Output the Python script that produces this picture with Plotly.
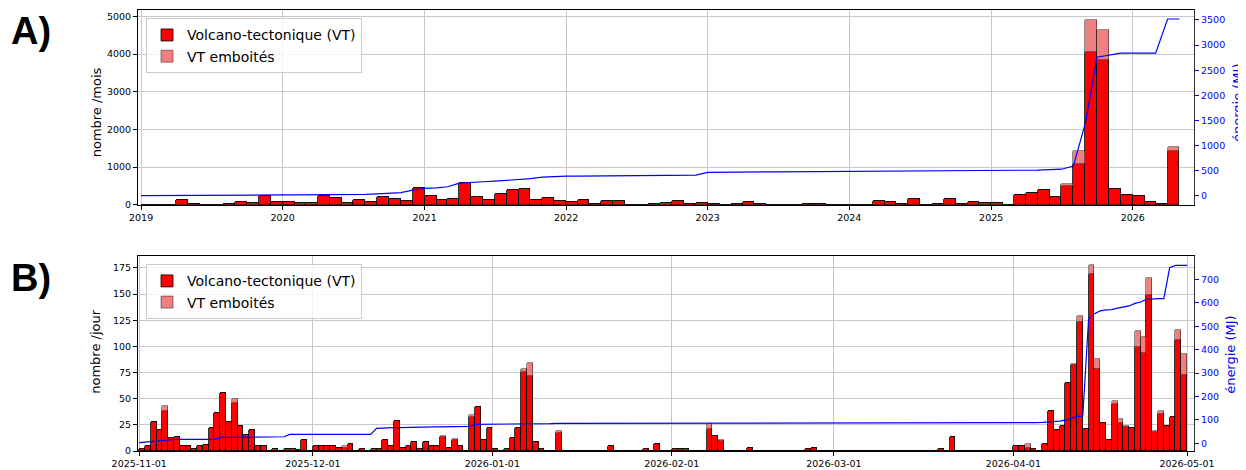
import pandas as pd
import plotly.graph_objects as go

# ---------------- DATA ----------------
# Panel A : monthly counts, 2019-01 .. 2026-04
month_start = "2019-01-01"
month_end = "2026-04-01"
vt_month = [0, 0, 0, 122, 15, 0, 0, 20, 72, 47,
            243, 78, 78, 47, 47, 243, 166, 47, 118, 75,
            205, 150, 105, 440, 237, 123, 150, 588, 210, 123,
            272, 400, 415, 123, 184, 96, 79, 114, 26, 96,
            88, 0, 0, 10, 44, 96, 15, 35, 5, 0,
            15, 60, 10, 0, 0, 0, 30, 10, 0, 0,
            0, 0, 105, 70, 15, 150, 0, 10, 150, 26,
            80, 35, 45, 0, 245, 316, 377, 193, 491, 1079,
            4044, 3842, 412, 245, 228, 70, 15, 1421]
emb_month = [0, 0, 0, 0, 0, 0, 0, 0, 0, 0,
             0, 0, 0, 0, 0, 0, 0, 0, 0, 0,
             0, 0, 0, 15, 0, 0, 0, 0, 0, 0,
             0, 0, 0, 0, 0, 0, 0, 0, 0, 0,
             0, 0, 0, 0, 0, 0, 0, 0, 0, 0,
             0, 0, 0, 0, 0, 0, 0, 0, 0, 0,
             0, 0, 0, 0, 0, 0, 0, 0, 0, 0,
             0, 0, 0, 0, 0, 0, 0, 0, 60, 342,
             851, 807, 0, 0, 0, 0, 0, 123]
# cumulative energy (MJ) at month boundaries 2019-01-01 .. 2026-05-01
energy_month = [0, 0, 0, 8, 12, 12, 12, 13, 14, 15,
                15, 15, 15, 16, 16, 17, 18, 18, 20, 25,
                35, 50, 62, 110, 145, 158, 178, 250, 270, 278,
                290, 305, 318, 340, 370, 385, 390, 392, 394, 396,
                398, 400, 402, 404, 405, 407, 409, 412, 465, 470,
                471, 473, 474, 475, 476, 477, 478, 479, 480, 481,
                482, 483, 485, 487, 488, 490, 491, 492, 493, 494,
                495, 495, 496, 497, 500, 505, 510, 518, 528, 590,
                1450, 2760, 2800, 2840, 2840, 2840, 2840, 3520, 3520]

# Panel B : daily counts, 2025-11-01 .. 2026-04-30
day_start = "2025-11-01"
day_end = "2026-04-30"
vt_day = [2, 4, 27, 20, 38, 12, 13, 4, 4, 2,
          4, 5, 22, 36, 55, 27, 46, 24, 15, 20,
          4, 4, 0, 2, 0, 2, 2, 1, 10, 0,
          4, 4, 4, 4, 3, 3, 6, 0, 2, 0,
          2, 2, 10, 4, 28, 3, 4, 8, 2, 8,
          4, 4, 13, 3, 10, 4, 0, 32, 42, 10,
          22, 2, 0, 2, 12, 22, 75, 71, 8, 2,
          0, 0, 17, 0, 0, 0, 0, 0, 0, 0,
          0, 4, 0, 0, 0, 0, 0, 2, 0, 6,
          0, 0, 2, 2, 2, 0, 0, 0, 21, 14,
          9, 0, 0, 0, 0, 3, 0, 0, 0, 0,
          0, 0, 0, 0, 0, 2, 3, 0, 0, 0,
          0, 0, 0, 0, 0, 0, 0, 0, 0, 0,
          0, 0, 0, 0, 0, 0, 0, 0, 2, 0,
          13, 0, 0, 0, 0, 0, 0, 0, 0, 0,
          0, 4, 4, 3, 2, 0, 6, 38, 20, 24,
          65, 82, 123, 21, 169, 78, 26, 10, 45, 26,
          23, 22, 99, 93, 149, 18, 35, 24, 32, 106,
          72]
emb_day = [0, 0, 0, 0, 5, 0, 0, 0, 0, 0,
           0, 0, 0, 0, 0, 0, 3, 0, 0, 0,
           0, 0, 0, 0, 0, 0, 0, 0, 0, 0,
           0, 0, 0, 0, 0, 1, 0, 0, 0, 0,
           0, 0, 0, 0, 0, 0, 0, 0, 0, 0,
           0, 0, 1, 0, 1, 0, 0, 2, 0, 0,
           0, 0, 0, 0, 0, 0, 3, 13, 0, 0,
           0, 0, 2, 0, 0, 0, 0, 0, 0, 0,
           0, 0, 0, 0, 0, 0, 0, 0, 0, 0,
           0, 0, 0, 0, 0, 0, 0, 0, 4, 0,
           1, 0, 0, 0, 0, 0, 0, 0, 0, 0,
           0, 0, 0, 0, 0, 0, 0, 0, 0, 0,
           0, 0, 0, 0, 0, 0, 0, 0, 0, 0,
           0, 0, 0, 0, 0, 0, 0, 0, 0, 0,
           0, 0, 0, 0, 0, 0, 0, 0, 0, 0,
           0, 0, 0, 3, 0, 0, 0, 0, 0, 0,
           0, 1, 6, 0, 8, 10, 0, 0, 2, 4,
           1, 0, 15, 16, 16, 1, 3, 0, 0, 9,
           20]
# cumulative energy (MJ) at day boundaries 2025-11-01 .. 2026-05-01
energy_day = [3, 4, 6, 9, 11, 15, 17, 17, 17, 17,
              17, 17, 17, 17, 25, 25, 26, 26, 26, 27,
              27, 27, 27, 28, 28, 28, 38, 38, 38, 38,
              38, 38, 38, 38, 38, 38, 38, 38, 38, 38,
              38, 64, 66, 66, 67, 67, 68, 68, 69, 69,
              70, 70, 70, 70, 71, 71, 71, 72, 81, 81,
              81, 82, 82, 82, 82, 82, 83, 83, 84, 84,
              84, 84, 85, 85, 85, 85, 85, 85, 85, 85,
              86, 86, 86, 86, 86, 86, 86, 86, 86, 86,
              86, 86, 86, 86, 87, 87, 87, 87, 87, 87,
              87, 87, 87, 87, 87, 87, 87, 87, 87, 87,
              87, 87, 87, 87, 87, 87, 87, 88, 88, 88,
              88, 88, 88, 88, 88, 88, 88, 88, 88, 88,
              88, 88, 88, 88, 88, 88, 88, 88, 88, 88,
              88, 88, 88, 88, 88, 88, 88, 88, 88, 88,
              88, 88, 88, 88, 88, 88, 89, 90, 92, 95,
              99, 108, 115, 117, 530, 554, 566, 570, 571, 578,
              584, 587, 598, 604, 615, 618, 618, 618, 750, 760,
              760, 760]

label_vt = "Volcano-tectonique (VT)"
label_emb = "VT emboités"

# ---------------- BUILD ----------------
months = pd.date_range(month_start, month_end, freq="MS")
month_edges = pd.date_range(month_start, pd.Timestamp(month_end) + pd.offsets.MonthBegin(1), freq="MS")
month_w = [(month_edges[i + 1] - month_edges[i]).total_seconds() * 1000 for i in range(len(months))]
days = pd.date_range(day_start, day_end, freq="D")
day_edges = pd.date_range(day_start, pd.Timestamp(day_end) + pd.Timedelta(days=1), freq="D")
day_w = 86400000

RED = "#ff0000"
PINK = "#f08080"
FONT = "DejaVu Sans"

fig = go.Figure()
# Panel A
fig.add_trace(go.Bar(x=months, y=vt_month, width=month_w, offset=0, name=label_vt,
                     marker=dict(color=RED, line=dict(color="black", width=0.8)),
                     xaxis="x", yaxis="y", legend="legend"))
fig.add_trace(go.Bar(x=months, y=emb_month, width=month_w, offset=0, name=label_emb,
                     marker=dict(color=PINK, line=dict(color="rgba(0,0,0,0.55)", width=0.8)),
                     xaxis="x", yaxis="y", legend="legend"))
fig.add_trace(go.Scatter(x=month_edges, y=energy_month, mode="lines",
                         line=dict(color="blue", width=1.2), showlegend=False,
                         xaxis="x", yaxis="y2"))
# Panel B
fig.add_trace(go.Bar(x=days, y=vt_day, width=day_w, offset=0, name=label_vt,
                     marker=dict(color=RED, line=dict(color="black", width=0.8)),
                     xaxis="x2", yaxis="y3", legend="legend2"))
fig.add_trace(go.Bar(x=days, y=emb_day, width=day_w, offset=0, name=label_emb,
                     marker=dict(color=PINK, line=dict(color="rgba(0,0,0,0.55)", width=0.8)),
                     xaxis="x2", yaxis="y3", legend="legend2"))
fig.add_trace(go.Scatter(x=day_edges, y=energy_day, mode="lines",
                         line=dict(color="blue", width=1.2), showlegend=False,
                         xaxis="x2", yaxis="y4"))

GRID = "#c8c8c8"
tickfont = dict(family=FONT, size=9.5, color="black")
bluefont = dict(family=FONT, size=9.5, color="blue")

common_x = dict(showgrid=True, gridcolor=GRID, gridwidth=0.8, ticks="outside", ticklen=4,
                tickcolor="black", showline=True, linecolor="black", linewidth=1, mirror=True,
                tickfont=tickfont, zeroline=False)
common_yl = dict(showgrid=True, gridcolor=GRID, gridwidth=0.8, ticks="outside", ticklen=4,
                 tickcolor="black", showline=True, linecolor="black", linewidth=1,
                 tickfont=tickfont, zeroline=False, side="left")
common_yr = dict(showgrid=False, ticks="outside", ticklen=4, tickcolor="blue",
                 showline=True, linecolor="#333333", linewidth=1.2,
                 tickfont=bluefont, zeroline=False, side="right")

legend_style = dict(bgcolor="rgba(255,255,255,0.8)", bordercolor="#cccccc", borderwidth=1,
                    font=dict(family=FONT, size=14, color="black"), traceorder="normal",
                    xanchor="left", yanchor="top", tracegroupgap=0, itemwidth=30)

# the page body has an 8px margin: size the figure so that it ends at the window edge
fig.update_layout(
    width=1238, height=462,
    margin=dict(l=130, r=52, t=1, b=17),
    paper_bgcolor="white", plot_bgcolor="white",
    barmode="stack", bargap=0,
    font=dict(family=FONT, color="black"),
    xaxis=dict(common_x, domain=[0, 1], anchor="y", type="date",
               range=["2018-12-24", "2026-06-08"], tick0="2019-01-01", dtick="M12", tickformat="%Y"),
    yaxis=dict(common_yl, domain=[0.5586, 1], anchor="x", range=[0, 5170],
               tickvals=[0, 1000, 2000, 3000, 4000, 5000]),
    yaxis2=dict(common_yr, overlaying="y", anchor="x", range=[-178, 3699],
                tickvals=[0, 500, 1000, 1500, 2000, 2500, 3000, 3500]),
    xaxis2=dict(common_x, domain=[0, 1], anchor="y3", type="date",
                range=["2025-10-31 19:00", "2026-05-02 05:00"], tick0="2025-11-01",
                dtick="M1", tickformat="%Y-%m-%d"),
    yaxis3=dict(common_yl, domain=[0, 0.4414], anchor="x2", range=[0, 186],
                tickvals=[0, 25, 50, 75, 100, 125, 150, 175]),
    yaxis4=dict(common_yr, overlaying="y3", anchor="x2", range=[-33, 799],
                tickvals=[0, 100, 200, 300, 400, 500, 600, 700]),
    legend=dict(legend_style, x=0.0076, y=0.981),
    legend2=dict(legend_style, x=0.0076, y=0.4234),
    showlegend=True,
)

TITLE_SIZE = 13
ann = []
ann.append(dict(text="<b>A)</b>", x=(9 - 138) / 1056, y=0.953, xref="paper", yref="paper",
                showarrow=False, font=dict(family="Liberation Sans", size=38, color="black"),
                xanchor="left", yanchor="middle"))
ann.append(dict(text="<b>B)</b>", x=(9 - 138) / 1056, y=0.392, xref="paper", yref="paper",
                showarrow=False, font=dict(family="Liberation Sans", size=38, color="black"),
                xanchor="left", yanchor="middle"))
ann.append(dict(text="nombre /mois", x=(96 - 138) / 1056, y=0.768, xref="paper", yref="paper",
                showarrow=False, textangle=-90, font=dict(family=FONT, size=TITLE_SIZE, color="black"),
                xanchor="center", yanchor="middle"))
ann.append(dict(text="nombre /jour", x=(96 - 138) / 1056, y=0.225, xref="paper", yref="paper",
                showarrow=False, textangle=-90, font=dict(family=FONT, size=TITLE_SIZE, color="black"),
                xanchor="center", yanchor="middle"))
ann.append(dict(text="énergie (MJ)", x=(1237 - 138) / 1056, y=0.789, xref="paper", yref="paper",
                showarrow=False, textangle=-90, font=dict(family=FONT, size=TITLE_SIZE, color="blue"),
                xanchor="center", yanchor="middle"))
ann.append(dict(text="énergie (MJ)", x=(1231 - 138) / 1056, y=0.218, xref="paper", yref="paper",
                showarrow=False, textangle=-90, font=dict(family=FONT, size=TITLE_SIZE, color="blue"),
                xanchor="center", yanchor="middle"))
fig.update_layout(annotations=ann)

fig.write_html("out.html")
